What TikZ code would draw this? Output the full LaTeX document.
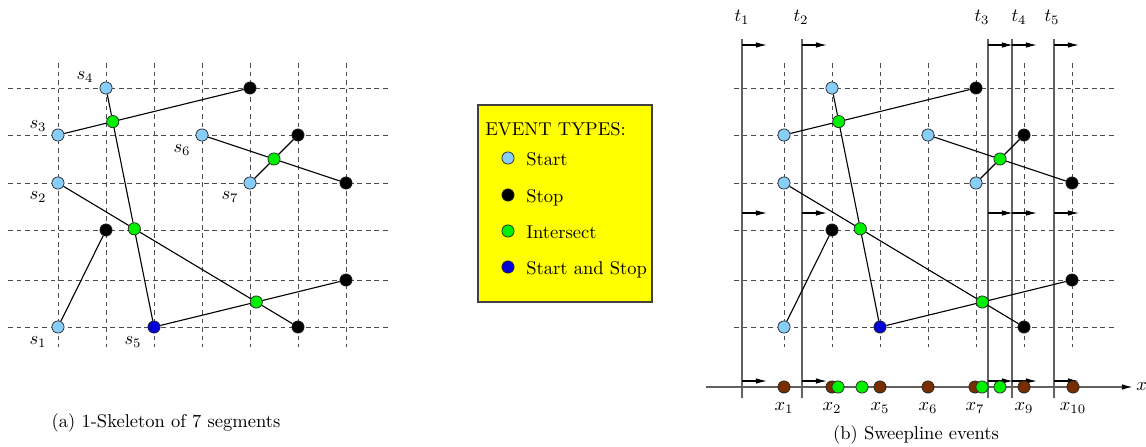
\documentclass[tikz,border=0pt]{standalone}
\usetikzlibrary{arrows.meta}

\definecolor{startblue}{RGB}{135,206,250}
\definecolor{hitgreen}{RGB}{0,240,0}
\definecolor{bothblue}{RGB}{0,0,215}
\definecolor{eventbrown}{RGB}{120,45,0}
\definecolor{legendyellow}{RGB}{255,255,0}

\tikzset{
  ev/.style={circle,draw=black!85,line width=0.4pt,inner sep=0pt,minimum size=6.6pt},
  startev/.style={ev,fill=startblue},
  stopev/.style={ev,fill=black},
  crossev/.style={ev,fill=hitgreen},
  bothev/.style={ev,fill=bothblue},
  axisev/.style={ev,fill=eventbrown},
  gridline/.style={black!70,line width=0.5pt,dash pattern=on 2.6pt off 2pt},
  seg/.style={black,line width=0.6pt},
  sweep/.style={black!62,line width=0.7pt},
  sweeparrow/.style={black,line width=0.6pt,-{Latex[length=6pt,width=3pt]}},
  axisline/.style={black!62,line width=0.8pt,-{Latex[length=6pt,width=3pt,color=black]}},
  lbl/.style={inner sep=0pt},
}

% dashed grid of one panel, shifted by #1
\newcommand\gridpanel[1]{%
  \begin{scope}[shift={(#1,0)}]
    \foreach \gx in {58,106,154,202,250,298,346}
      \draw[gridline] (\gx,63) -- (\gx,347);
    \foreach \gy in {88,135,183,230,280,327}
      \draw[gridline] (8,\gy) -- (390,\gy);
  \end{scope}}

% the seven segments with their event points; #1 name prefix, #2 shift
\newcommand\segpanel[2]{%
  \begin{scope}[shift={(#2,0)}]
    \node[startev] (#1s1a) at (58,327) {};
    \node[stopev]  (#1s1b) at (106,230) {};
    \node[startev] (#1s2a) at (58,183) {};
    \node[stopev]  (#1s2b) at (298,327) {};
    \node[startev] (#1s3a) at (58,135) {};
    \node[stopev]  (#1s3b) at (250,88) {};
    \node[startev] (#1s4a) at (106,88) {};
    \node[bothev]  (#1s45) at (154,327) {};
    \node[stopev]  (#1s5b) at (346,280) {};
    \node[startev] (#1s6a) at (202,135) {};
    \node[stopev]  (#1s6b) at (346,183) {};
    \node[startev] (#1s7a) at (250,183) {};
    \node[stopev]  (#1s7b) at (298,135) {};
    \node[crossev] (#1x34) at (112.75,121.6) {};
    \node[crossev] (#1x24) at (134.3,228.8) {};
    \node[crossev] (#1x25) at (256.3,302) {};
    \node[crossev] (#1x67) at (274,159) {};
    \draw[seg] (#1s1a) -- (#1s1b);
    \draw[seg] (#1s2a) -- (#1x24) -- (#1x25) -- (#1s2b);
    \draw[seg] (#1s3a) -- (#1x34) -- (#1s3b);
    \draw[seg] (#1s4a) -- (#1x34) -- (#1x24) -- (#1s45);
    \draw[seg] (#1s45) -- (#1x25) -- (#1s5b);
    \draw[seg] (#1s6a) -- (#1x67) -- (#1s6b);
    \draw[seg] (#1s7a) -- (#1x67) -- (#1s7b);
  \end{scope}}

\begin{document}
\begin{tikzpicture}[x=0.54pt,y=-0.54pt]
\useasboundingbox (0,0) rectangle (1146,446);

% ---------- (a) the 1-skeleton ----------
\gridpanel{0}
\segpanel{L}{0}
\node[lbl] (ls4) at (85,77)  {$s_4$};
\node[lbl] (ls3) at (38,126) {$s_3$};
\node[lbl] (ls6) at (182,150) {$s_6$};
\node[lbl] (ls2) at (38,197) {$s_2$};
\node[lbl] (ls7) at (230,197) {$s_7$};
\node[lbl] (ls1) at (38,342) {$s_1$};
\node[lbl] (ls5) at (133,342) {$s_5$};
\node[lbl] (capa) at (166,423) {(a) 1-Skeleton of 7 segments};

% ---------- legend ----------
\node[draw=black!75,line width=0.6pt,fill=legendyellow,
      minimum width=94pt,minimum height=106.4pt] (legend) at (565,203.5) {};
\node[lbl,anchor=base west] (legtitle) at (485,135) {EVENT TYPES:};
\node[startev] (legstart) at (508,158) {};
\node[lbl,anchor=base west] (legstartt) at (526,165) {Start};
\node[stopev] (legstop) at (508,195) {};
\node[lbl,anchor=base west] (legstopt) at (526,202) {Stop};
\node[crossev] (legcross) at (508,231) {};
\node[lbl,anchor=base west] (legcrosst) at (526,238) {Intersect};
\node[bothev] (legboth) at (508,267) {};
\node[lbl,anchor=base west] (legbotht) at (526,274) {Start and Stop};

% ---------- (b) sweepline events ----------
\gridpanel{726}
\foreach \tx/\tn in {742/1,802/2,988/3,1012/4,1054/5}{
  \coordinate (ttop\tn) at (\tx,39);
  \coordinate (tbot\tn) at (\tx,398);
  \draw[sweep] (ttop\tn) -- (tbot\tn);
}
\segpanel{R}{726}
\foreach \tx in {742,802,988,1012,1054}
  \foreach \ty in {45,213,381}
    \draw[sweeparrow] (\tx,\ty) -- ++(25,0);

\node[lbl] (lt1) at (742,17) {$t_1$};
\node[lbl] (lt2) at (801,17) {$t_2$};
\node[lbl] (lt3) at (982,17) {$t_3$};
\node[lbl] (lt4) at (1019,17) {$t_4$};
\node[lbl] (lt5) at (1052,17) {$t_5$};

% event queue on the x axis
\coordinate (axstart) at (706,387);
\coordinate (axend) at (1133,387);
\draw[axisline] (axstart) -- (axend);
\node[lbl,anchor=west] (axlabel) at (1136,387) {$x$};
\foreach \ex/\en in {784/1,832/2,880/5,928/6,975/7,1024/9,1073/10}{
  \node[axisev] (xe\en) at (\ex,387) {};
  \node[lbl] (xl\en) at (\ex,408) {$x_{\en}$};
}
\foreach \ex/\en in {838/a,862/b,982/c,1000/d}
  \node[crossev] (xg\en) at (\ex,387) {};

\node[lbl] (capb) at (916,435) {(b) Sweepline events};
\end{tikzpicture}
\end{document}
